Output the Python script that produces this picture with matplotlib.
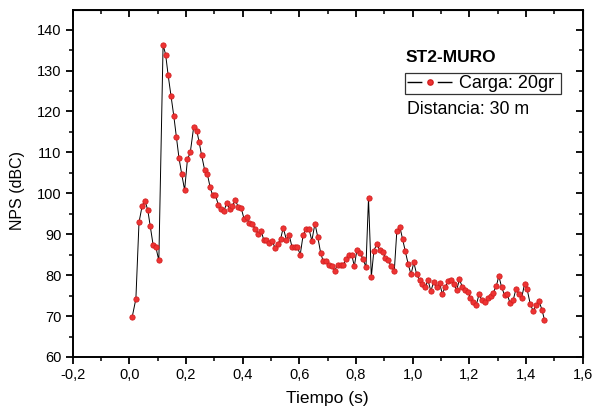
import matplotlib
matplotlib.use("Agg")
import matplotlib.pyplot as plt
from matplotlib.ticker import AutoMinorLocator
from matplotlib.lines import Line2D
from matplotlib.legend_handler import HandlerTuple

plt.rcParams['font.family'] = ['Liberation Sans', 'DejaVu Sans']

tiempo = [0.010, 0.023, 0.034, 0.045, 0.055, 0.065, 0.074, 0.084, 0.093, 0.104,
          0.119, 0.128, 0.137, 0.147, 0.157, 0.166, 0.175, 0.185, 0.195, 0.205,
          0.215, 0.227, 0.238, 0.246, 0.255, 0.266, 0.275, 0.285, 0.294, 0.303,
          0.314, 0.325, 0.334, 0.344, 0.354, 0.363, 0.374, 0.385, 0.395, 0.405,
          0.414, 0.423, 0.433, 0.444, 0.455, 0.465, 0.474, 0.483, 0.494, 0.504,
          0.514, 0.524, 0.534, 0.543, 0.554, 0.564, 0.574, 0.583, 0.593, 0.603,
          0.613, 0.623, 0.634, 0.644, 0.655, 0.665, 0.675, 0.684, 0.694, 0.704,
          0.714, 0.725, 0.735, 0.746, 0.755, 0.764, 0.775, 0.785, 0.794, 0.803,
          0.815, 0.825, 0.835, 0.844, 0.854, 0.863, 0.874, 0.883, 0.894, 0.903,
          0.914, 0.924, 0.935, 0.944, 0.955, 0.964, 0.974, 0.984, 0.994, 1.004,
          1.014, 1.024, 1.034, 1.044, 1.054, 1.064, 1.074, 1.084, 1.095, 1.104,
          1.115, 1.125, 1.135, 1.145, 1.155, 1.165, 1.175, 1.185, 1.196, 1.203,
          1.213, 1.224, 1.234, 1.244, 1.255, 1.265, 1.275, 1.284, 1.295, 1.304,
          1.314, 1.324, 1.333, 1.344, 1.355, 1.364, 1.375, 1.384, 1.395, 1.404,
          1.415, 1.425, 1.435, 1.445, 1.456, 1.465]

nps = [69.8, 74.2, 92.9, 96.9, 98.2, 95.9, 91.9, 87.3, 87.0, 83.6,
       136.3, 133.9, 128.8, 123.7, 118.8, 113.8, 108.7, 104.6, 100.8, 108.3,
       110.0, 116.2, 115.3, 112.6, 109.3, 105.6, 104.8, 101.5, 99.5, 99.7,
       97.2, 96.2, 95.7, 97.7, 96.1, 96.9, 98.3, 96.6, 96.3, 93.7,
       94.1, 92.7, 92.4, 91.4, 90.1, 90.8, 88.7, 88.7, 87.9, 88.4,
       86.7, 87.6, 88.9, 91.6, 88.7, 89.8, 86.9, 87.0, 86.9, 85.0,
       89.7, 91.4, 91.3, 88.4, 92.6, 89.3, 85.5, 83.4, 83.4, 82.4,
       82.2, 81.1, 82.6, 82.5, 82.4, 84.0, 84.9, 84.9, 82.2, 86.1,
       85.4, 83.9, 82.0, 98.8, 79.6, 86.0, 87.7, 86.1, 85.7, 84.3,
       83.6, 82.2, 81.0, 90.8, 91.7, 88.9, 85.8, 82.7, 80.2, 83.1,
       80.2, 78.8, 77.8, 77.0, 78.8, 76.1, 78.3, 77.0, 78.1, 75.5,
       77.0, 78.6, 78.8, 77.9, 76.3, 79.0, 77.1, 76.3, 76.0, 74.4,
       73.4, 72.6, 75.3, 74.0, 73.5, 74.4, 75.0, 75.7, 77.3, 79.8,
       77.0, 75.2, 75.4, 73.1, 74.0, 76.5, 75.3, 74.3, 77.9, 76.5,
       72.9, 71.3, 72.6, 73.8, 71.6, 69.1]

x_ticks = [-0.2, 0.0, 0.2, 0.4, 0.6, 0.8, 1.0, 1.2, 1.4, 1.6]
x_tick_labels = ["-0,2", "0,0", "0,2", "0,4", "0,6", "0,8", "1,0", "1,2", "1,4", "1,6"]
y_ticks = [60, 70, 80, 90, 100, 110, 120, 130, 140]

serie_label = "Carga: 20gr"
titulo = "ST2-MURO"
nota = "Distancia: 30 m"

RED = '#ee3333'

fig = plt.figure(figsize=(5.92, 4.12), dpi=100)
ax = fig.add_axes([72.7/592, 55/412, 510/592, 347/412])

ax.plot(tiempo, nps, color='black', lw=0.7, marker='o', ms=3.8,
        mfc=RED, mec='#d42020', mew=0.6)

ax.set_xlim(-0.2, 1.6)
ax.set_ylim(60, 144.8)
ax.set_xticks(x_ticks)
ax.set_xticklabels(x_tick_labels)
ax.set_yticks(y_ticks)
ax.xaxis.set_minor_locator(AutoMinorLocator(2))
ax.yaxis.set_minor_locator(AutoMinorLocator(2))

for s in ax.spines.values():
    s.set_linewidth(1.4)

ax.tick_params(axis='both', which='major', direction='out', length=5, width=1.3,
               labelsize=10.5, pad=3)
ax.tick_params(axis='both', which='minor', direction='out', length=3, width=1.1)
ax2 = ax.secondary_xaxis('top')
ax2.set_xticks(x_ticks)
ax2.xaxis.set_minor_locator(AutoMinorLocator(2))
ax2.tick_params(which='major', direction='in', length=5, width=1.3, labeltop=False)
ax2.tick_params(which='minor', direction='in', length=3, width=1.1)
ax3 = ax.secondary_yaxis('right')
ax3.set_yticks(y_ticks)
ax3.yaxis.set_minor_locator(AutoMinorLocator(2))
ax3.tick_params(which='major', direction='in', length=5, width=1.3, labelright=False)
ax3.tick_params(which='minor', direction='in', length=3, width=1.1)

ax.set_xlabel("Tiempo (s)", fontsize=12.5)
ax.set_ylabel("NPS (dBC)", fontsize=11.5)
ax.xaxis.set_label_coords(0.5, (357 - 391) / 347)
ax.yaxis.set_label_coords((25 - 72.7) / 510, (357 - 191) / 347)

fs_leg = 13
hl = 2.5
seg_total = hl * fs_leg
h_line = Line2D([], [], color='black', lw=1.0,
                dashes=[seg_total * 0.33, seg_total * 0.34])
h_mark = Line2D([], [], color=RED, lw=0, marker='o', ms=3.8, mec='#d42020')
leg = ax.legend([(h_line, h_mark)], [serie_label + " "],
                handler_map={tuple: HandlerTuple(ndivide=1, pad=0)},
                loc='upper left', bbox_to_anchor=((405 - 72.7) / 510, (357 - 73) / 347),
                borderaxespad=0, frameon=True, fancybox=False, fontsize=fs_leg,
                handlelength=hl, handletextpad=0.35, borderpad=0.12, numpoints=1)
leg.get_frame().set_edgecolor('black')
leg.get_frame().set_linewidth(0.9)

fig.text(406/592, (412-57)/412, titulo, fontsize=12.5, fontweight='bold',
         va='center', ha='left')
fig.text(407/592, (412-110)/412, nota, fontsize=12.8, va='center', ha='left')

fig.savefig("out.png", dpi=100)
